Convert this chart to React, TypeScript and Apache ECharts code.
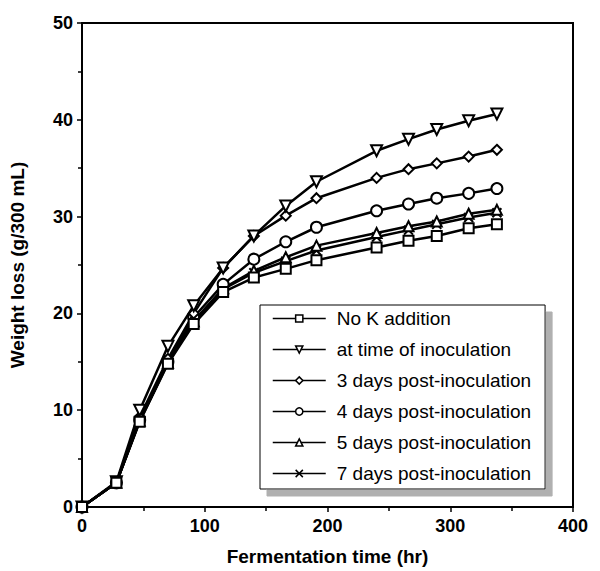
import React, { useEffect, useRef } from "react";
import * as echarts from "echarts";

const timeHr = [0, 28, 47, 70, 91, 115, 140, 166, 191, 240, 266, 289, 315, 338];
const noK = [0, 2.5, 8.8, 14.8, 18.9, 22.2, 23.7, 24.6, 25.5, 26.8, 27.5, 28.0, 28.8, 29.2];
const atInoc = [0, 2.6, 10.0, 16.6, 20.8, 24.7, 28.0, 31.1, 33.6, 36.8, 38.0, 39.0, 39.9, 40.6];
const day3 = [0, 2.5, 9.3, 15.3, 20.0, 24.7, 28.0, 30.1, 31.9, 34.0, 34.9, 35.5, 36.2, 36.9];
const day4 = [0, 2.5, 9.0, 15.0, 19.6, 23.0, 25.6, 27.4, 28.9, 30.6, 31.3, 31.9, 32.4, 32.9];
const day5 = [0, 2.5, 8.9, 14.9, 19.2, 22.6, 24.4, 25.8, 27.0, 28.3, 29.0, 29.5, 30.3, 30.7];
const day7 = [0, 2.5, 8.9, 14.9, 19.1, 22.5, 24.2, 25.4, 26.5, 27.9, 28.6, 29.2, 29.9, 30.4];

const seriesNames = [
  "No K addition",
  "at time of inoculation",
  "3 days post-inoculation",
  "4 days post-inoculation",
  "5 days post-inoculation",
  "7 days post-inoculation",
];
const seriesValues = [noK, atInoc, day3, day4, day5, day7];
const symbols = [
  "rect",
  "path://M0,0L10,0L5,9Z",
  "diamond",
  "circle",
  "triangle",
  "path://M0,0L10,10M10,0L0,10",
];
const symbolSizes = [10, 11, 10, 11, 10, 9];

export default function App() {
  const ref = useRef<HTMLDivElement>(null);
  useEffect(() => {
    if (!ref.current) return;
    const chart = echarts.init(ref.current, undefined, { renderer: "svg" });
    const font = "Liberation Sans, Arial, Helvetica, sans-serif";
    chart.setOption({
      animation: false,
      backgroundColor: "#fff",
      grid: {
        left: 81,
        right: 27,
        top: 23,
        bottom: 60,
        show: true,
        borderColor: "#000",
        borderWidth: 2,
      },
      xAxis: {
        type: "value",
        min: 0,
        max: 400,
        interval: 100,
        name: "Fermentation time (hr)",
        nameLocation: "middle",
        nameGap: 40,
        nameTextStyle: { fontFamily: font, fontWeight: "bold", fontSize: 19, color: "#000" },
        axisLine: { lineStyle: { color: "#000", width: 2 } },
        axisTick: { show: true, inside: false, length: 5, lineStyle: { color: "#000", width: 1.5 } },
        minorTick: { show: true, splitNumber: 2, length: 4, lineStyle: { color: "#000", width: 1.5 } },
        splitLine: { show: false },
        axisLabel: { fontFamily: font, fontWeight: "bold", fontSize: 18, color: "#000", margin: 10 },
      },
      yAxis: {
        type: "value",
        min: 0,
        max: 50,
        interval: 10,
        name: "Weight loss (g/300 mL)",
        nameLocation: "middle",
        nameGap: 55,
        nameTextStyle: { fontFamily: font, fontWeight: "bold", fontSize: 19, color: "#000" },
        axisLine: { lineStyle: { color: "#000", width: 2 } },
        axisTick: { show: true, inside: false, length: 5, lineStyle: { color: "#000", width: 1.5 } },
        minorTick: { show: true, splitNumber: 2, length: 4, lineStyle: { color: "#000", width: 1.5 } },
        splitLine: { show: false },
        axisLabel: { fontFamily: font, fontWeight: "bold", fontSize: 18, color: "#000", margin: 9 },
      },
      legend: {
        orient: "vertical",
        left: 260,
        top: 305,
        data: seriesNames,
        backgroundColor: "#fff",
        borderColor: "#000",
        borderWidth: 1,
        borderRadius: 0,
        padding: [4, 14, 6, 12],
        itemWidth: 53,
        itemHeight: 9,
        itemGap: 12,
        shadowColor: "#b0b0b0",
        shadowBlur: 0,
        shadowOffsetX: 7,
        shadowOffsetY: 7,
        lineStyle: { width: 1.5 },
        itemStyle: { borderWidth: 1.5 },
        textStyle: { fontFamily: font, fontSize: 19, color: "#000", padding: [0, 0, 0, 6] },
        selectedMode: false,
      },
      series: seriesNames.map((name, i) => ({
        name,
        type: "line",
        data: timeHr.map((t, j) => [t, seriesValues[i][j]]),
        symbol: symbols[i],
        symbolSize: symbolSizes[i],
        showAllSymbol: true,
        lineStyle: { color: "#000", width: 2.5 },
        itemStyle: { color: "#fff", borderColor: "#000", borderWidth: 2 },
        z: 10 - i,
      })),
    });
    return () => chart.dispose();
  }, []);
  return <div ref={ref} style={{ width: 600, height: 571, position: "absolute", left: 0, top: 0 }} />;
}
